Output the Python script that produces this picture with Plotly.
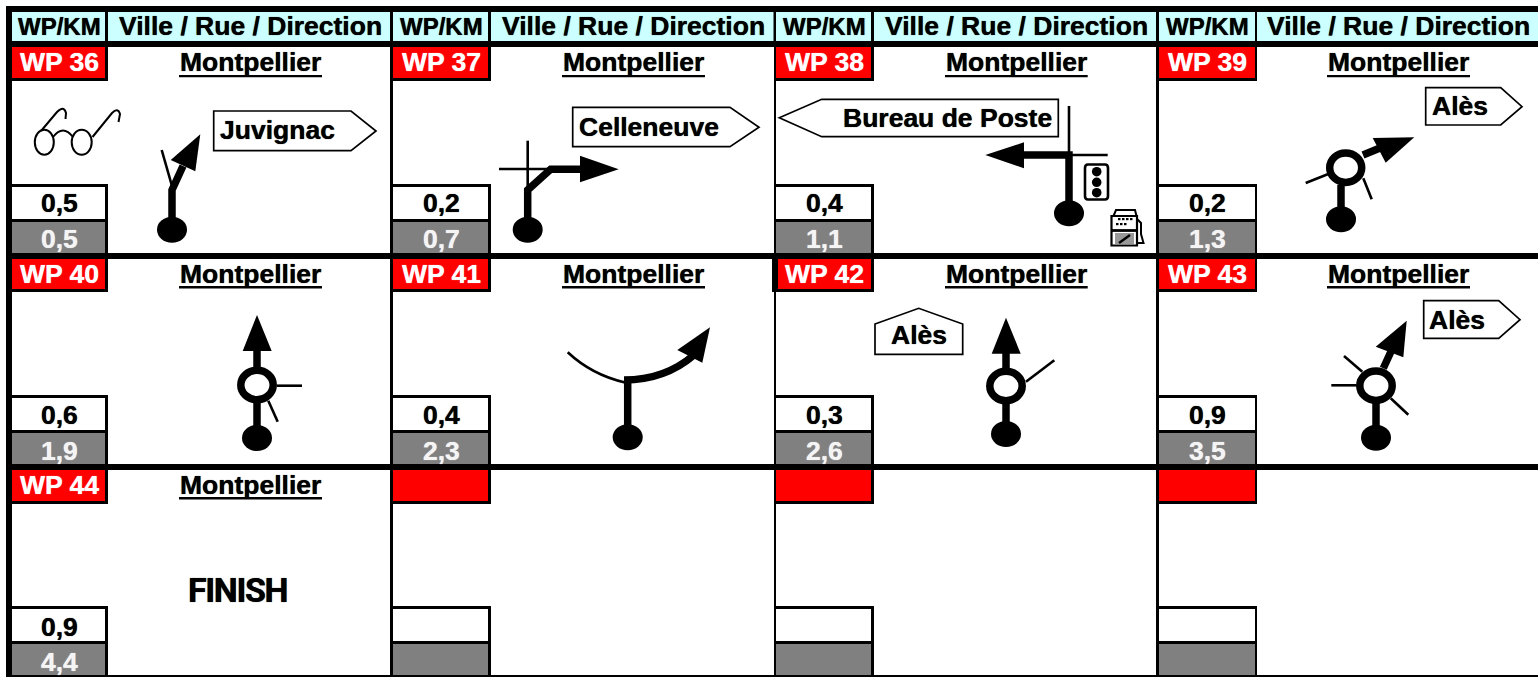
import plotly.graph_objects as go

# ---- content ----
HEAD_KM = "WP/KM"
HEAD_TOWN = "Ville / Rue / Direction"
WAYPOINTS = ["WP 36", "WP 37", "WP 38", "WP 39", "WP 40", "WP 41", "WP 42", "WP 43", "WP 44", "", "", ""]
KM_PARTIAL = ["0,5", "0,2", "0,4", "0,2", "0,6", "0,4", "0,3", "0,9", "0,9", "", "", ""]
KM_TOTAL = ["0,5", "0,7", "1,1", "1,3", "1,9", "2,3", "2,6", "3,5", "4,4", "", "", ""]
TOWNS = ["Montpellier"] * 9 + ["", "", ""]

# ---- layout ----
W, H = 1538, 677
RED, GREY, CYAN = "#FF0000", "#808080", "#CCFFFF"
FONT = "Liberation Sans, Arial, sans-serif"
COLS = [  # left border x0, x1, wp-cell right, wp-line right, description right
    (6, 12, 105, 108, 390),
    (390, 393, 488, 491, 773.5),
    (774, 776, 871, 874, 1156),
    (1156, 1159, 1255, 1257, 1538),
]
WP_C = [59, 441.3, 824.5, 1207.5]
TOWN_C = [250.5, 633, 1016, 1398.7]
UL = [(179, 322), (562, 705), (945, 1087.7), (1327, 1470)]
ROWS = [
    dict(t=47, rb=78, lb=81, kt=184, kw=187, kb=219, gt=222, b=253, wp=62.3, ktxt=203, gtxt=239, ul=(75, 77.2)),
    dict(t=259, rb=289, lb=292, kt=395, kw=398, kb=430, gt=433, b=464, wp=273.7, ktxt=415, gtxt=451, ul=(286, 288.5)),
    dict(t=470, rb=501, lb=504, kt=606, kw=609, kb=641, gt=644, b=675, wp=484.5, ktxt=626.5, gtxt=661.5, ul=(497, 499.5)),
]

shapes, annos = [], []


def rect(x0, y0, x1, y1, fill):
    shapes.append(dict(type="rect", x0=x0, y0=y0, x1=x1, y1=y1, fillcolor=fill, line=dict(width=0), layer="above"))


def path(d, fill=None, color="#000", w=1.5):
    s = dict(type="path", path=d, line=dict(color=color, width=w), layer="above")
    if fill:
        s["fillcolor"] = fill
    shapes.append(s)


def seg(pts, w=2.0):
    path("M" + " L".join(f"{x} {y}" for x, y in pts), w=w)


def poly(pts, fill="#000", w=0, color="#000"):
    path("M" + " L".join(f"{x} {y}" for x, y in pts) + " Z", fill=fill, w=w, color=color)


def ell(cx, cy, rx, ry, fill="#000", w=0):
    shapes.append(dict(type="circle", x0=cx - rx, x1=cx + rx, y0=cy - ry, y1=cy + ry, fillcolor=fill,
                       line=dict(color="#000", width=w), layer="above"))


def text(x, y, t, color="#000", size=26.5, anchor="center", family=FONT, weight=700):
    annos.append(dict(x=x, y=y, text=t, showarrow=False, xanchor=anchor, yanchor="middle",
                      font=dict(family=family, size=size, color=color, weight=weight,
                                shadow=f"0 0 0.8px {color}"),
                      borderpad=0, borderwidth=0))


def sign(pts, label, tx, ty, anchor="left"):
    poly(pts, fill="#fff", w=1.7)
    text(tx, ty, label, anchor=anchor)


THIN = 2.6
TH = 7.5  # heavy route line

# frame
rect(6, 6, W, 47, "#000")
rect(6, 6, 12, H, "#000")
for i, (l0, l1, wr, wl, dr) in enumerate(COLS):
    rect(l0, 12, l1, H, "#000")
    rect(l1, 12, wr, 41, CYAN)
    rect(wl, 12, dr, 41, CYAN)
    text(WP_C[i], 26.4, HEAD_KM, size=24)
    text(TOWN_C[i], 26.4, HEAD_TOWN)

for r, R in enumerate(ROWS):
    if r:
        rect(6, R["t"] - 6, W, R["t"], "#000")
    for c, (l0, l1, wr, wl, dr) in enumerate(COLS):
        n = r * 4 + c
        rect(wr, R["t"], wl, R["lb"], "#000")
        rect(l1, R["rb"], wl, R["lb"], "#000")
        rect(l1, R["t"], wr, R["rb"], RED)
        rect(l1, R["kt"], wl, R["b"], "#000")
        rect(l1, R["kw"], wr, R["kb"], "#fff")
        rect(l1, R["gt"], wr, R["b"], GREY)
        if WAYPOINTS[n]:
            text(WP_C[c], R["wp"], WAYPOINTS[n], color="#fff")
            text(WP_C[c], R["ktxt"], KM_PARTIAL[n])
            text(WP_C[c], R["gtxt"], KM_TOTAL[n], color="#F4F4F4")
            text(TOWN_C[c], R["wp"], TOWNS[n])
            rect(UL[c][0], R["ul"][0], UL[c][1], R["ul"][1], "#000")
rect(6, 675, W, H, "#000")
rect(772, 259, 778, 292, "#000")

# ---- WP 36 ----
ell(172, 229.7, 15, 13)
seg([(172, 229), (172, 190), (183, 166)], TH)
poly([(200.3, 134.3), (170.7, 160), (195.3, 171.3)])
seg([(161.7, 150), (171.7, 185)], THIN)
ell(44.3, 142.3, 9.5, 12.5, fill="#fff", w=2)
ell(81.7, 142.3, 10, 12.5, fill="#fff", w=2)
path("M53 137 Q63 124 73 137", w=2)
path("M41 131 L57 112 Q64 105 66 113 L65.5 119", w=2)
path("M92.5 137 L112 113 Q118 107 120 114 L118.5 122", w=2)
sign([(213.7, 111), (351, 111), (376, 131), (351, 150.7), (213.7, 150.7)], "Juvignac", 220, 130)

# ---- WP 37 ----
ell(527.7, 229.7, 15, 13)
seg([(527.7, 229), (527.7, 190), (550.7, 169.3), (581, 169.3)], TH)
poly([(580, 155.7), (618.7, 169.3), (580, 182.3)])
seg([(527.7, 140.7), (527.7, 190)], THIN)
seg([(499, 169), (551, 169)], THIN)
sign([(572.7, 107.3), (730, 107.3), (759, 127.3), (730, 146.7), (572.7, 146.7)], "Celleneuve", 578.7, 126.5)

# ---- WP 38 ----
ell(1069, 213.3, 15, 13)
seg([(1069, 213), (1069, 155), (1023, 155)], TH)
poly([(1024, 142.3), (985.3, 155), (1024, 168.3)])
seg([(1069, 106), (1069, 155)], THIN)
seg([(1069, 155), (1107.7, 155)], THIN)
sign([(779.3, 117.7), (821.7, 99.3), (1058.3, 99.3), (1058.3, 136.7), (821.7, 136.7)], "Bureau de Poste", 843, 117.5)
path("M1088 164.5 L1105 164.5 Q1108 164.5 1108 168 L1108 196 Q1108 199.5 1105 199.5 L1088 199.5 Q1085 199.5 1085 196 "
     "L1085 168 Q1085 164.5 1088 164.5 Z", fill="#fff", w=2.6)
for yy in (171.7, 182.3, 192.7):
    ell(1096.7, yy, 4.8, 4.8)
# fuel pump
path("M1113.5 216 L1116 210 L1135 210 L1136.5 216 Z", fill="#fff", w=2)
path("M1111.5 216 L1137 216 L1137 245.5 L1111.5 245.5 Z", fill="#fff", w=2.2)
seg([(1111.5, 230.5), (1137, 230.5)], 2.8)
for xx in (1118, 1122, 1126):
    rect(xx, 218, xx + 2.5, 220.2, "#000")
    rect(xx - 2, 223, xx + 0.5, 225.2, "#000")
rect(1130, 218, 1132.5, 220.2, "#000")
rect(1115, 233, 1134, 244, "#999")
seg([(1119, 243), (1130, 235)], 2.4)
path("M1137 219 L1141 223 L1141 234 L1143.5 243 L1137 243", w=2)

# ---- WP 39 ----
ell(1341, 219.3, 15, 13)
seg([(1341, 219), (1341, 185)], TH)
seg([(1363, 155), (1380, 148)], TH)
poly([(1414.3, 137.3), (1372.7, 138), (1385.7, 162.7)])
seg([(1305.7, 183), (1328.3, 174)], THIN)
seg([(1363.3, 178.3), (1371.7, 199.3)], THIN)
ell(1345.7, 167.7, 16, 14.7, fill="#fff", w=7.5)
sign([(1425.7, 87.7), (1500.7, 87.7), (1522, 106.7), (1500.7, 125), (1425.7, 125)], "Alès", 1432, 106)

# ---- WP 40 ----
ell(257, 438, 15, 13)
seg([(257, 438), (257, 351)], TH)
poly([(257, 315), (242.7, 351), (271.7, 351)])
seg([(276.7, 385.7), (302, 385.7)], THIN)
seg([(268.3, 400.7), (277.7, 421.7)], THIN)
ell(257, 385, 16.2, 14.7, fill="#fff", w=7.5)

# ---- WP 41 ----
ell(627.7, 437.3, 15, 13)
seg([(627.7, 437), (627.7, 380)], TH)
path("M624 380 Q665 380 694 355", w=TH)
poly([(710, 327.3), (677.3, 350), (702.3, 362.7)])
path("M567.7 352.3 Q592 375 625 382.5", w=THIN)

# ---- WP 42 ----
ell(1006, 434, 15, 13)
seg([(1006, 434), (1006, 353)], TH)
poly([(1006, 317.7), (991.7, 353.7), (1020.7, 353.7)])
seg([(1026, 381.7), (1054.3, 360.3)], THIN)
ell(1006, 386, 16.2, 14.7, fill="#fff", w=7.5)
sign([(875, 324), (918.7, 308.3), (962.7, 324), (962.7, 354.3), (875, 354.3)], "Alès", 918.7, 335.3, anchor="center")

# ---- WP 43 ----
ell(1376, 437.7, 15, 13)
seg([(1376, 437), (1376, 398)], TH)
seg([(1383.3, 368.3), (1391.7, 350)], TH)
poly([(1406.7, 320.7), (1375.7, 346.7), (1403.3, 357.3)])
seg([(1344, 356), (1362.3, 371.7)], THIN)
seg([(1331.3, 385.3), (1356.7, 385.3)], THIN)
seg([(1390.7, 398.3), (1408.3, 414.7)], THIN)
ell(1376, 385.7, 16.2, 14.7, fill="#fff", w=7.5)
sign([(1423.7, 300.7), (1498.7, 300.7), (1520, 319.7), (1498.7, 338.3), (1423.7, 338.3)], "Alès", 1429.3, 319.5)

# ---- WP 44 ----
text(237.5, 590.3, '<span style="letter-spacing:-1.4px">FINISH</span>', size=34, family="Roboto", weight=700)

fig = go.Figure()
fig.update_layout(
    width=W, height=H, autosize=False, margin=dict(l=0, r=0, t=0, b=0),
    plot_bgcolor="#fff", paper_bgcolor="#fff", showlegend=False,
    xaxis=dict(range=[0, W], visible=False, fixedrange=True),
    yaxis=dict(range=[H, 0], visible=False, fixedrange=True),
    shapes=shapes, annotations=annos,
)
fig.write_html("out.html", config=dict(displayModeBar=False, staticPlot=True),
               post_script="document.body.style.margin='0';document.body.style.overflow='hidden';")
